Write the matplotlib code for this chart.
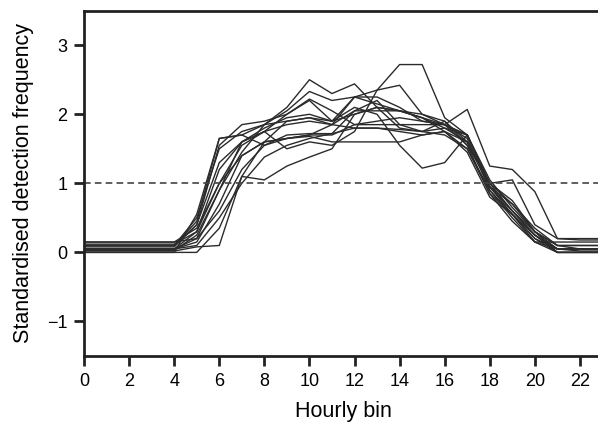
import numpy as np
import matplotlib
matplotlib.use("Agg")
from matplotlib import pyplot as plt

plt.rcParams['font.family'] = ['Liberation Sans', 'DejaVu Sans']

hours = np.arange(24)

# standardised detection frequency per hourly bin, one list per site
s01 = [0.05, 0.05, 0.05, 0.05, 0.05, 0.30, 1.20, 1.60, 1.75, 1.50, 1.60, 1.55, 1.75, 2.35, 2.72, 2.72, 1.95, 1.70, 0.95, 0.60, 0.25, 0.05, 0.05, 0.05]
s02 = [0.10, 0.10, 0.10, 0.10, 0.10, 0.50, 1.50, 1.75, 1.85, 2.10, 2.50, 2.30, 2.44, 2.10, 1.80, 1.75, 1.70, 1.50, 0.90, 0.55, 0.20, 0.05, 0.05, 0.05]
s03 = [0.05, 0.05, 0.05, 0.05, 0.05, 0.20, 0.90, 1.60, 1.80, 1.95, 2.00, 1.90, 2.10, 2.00, 1.55, 1.22, 1.30, 1.70, 1.00, 0.70, 0.30, 0.10, 0.10, 0.10]
s04 = [0.15, 0.15, 0.15, 0.15, 0.15, 0.35, 1.00, 1.40, 1.60, 1.65, 1.70, 1.70, 1.85, 1.85, 1.85, 1.85, 1.85, 2.07, 1.25, 1.20, 0.88, 0.20, 0.18, 0.18]
s05 = [0.02, 0.02, 0.02, 0.02, 0.02, 0.08, 0.10, 1.10, 1.05, 1.25, 1.38, 1.50, 2.00, 2.10, 2.05, 1.95, 1.80, 1.60, 1.00, 0.60, 0.30, 0.05, 0.05, 0.05]
s06 = [0.05, 0.05, 0.05, 0.05, 0.05, 0.15, 0.70, 1.40, 1.60, 1.65, 1.68, 1.60, 1.60, 1.60, 1.60, 1.70, 1.75, 1.60, 0.95, 0.55, 0.20, 0.00, 0.00, 0.00]
s07 = [0.10, 0.10, 0.10, 0.10, 0.10, 0.40, 1.30, 1.60, 1.75, 2.00, 2.20, 1.90, 2.25, 2.35, 2.42, 2.00, 1.85, 1.70, 0.95, 0.70, 0.35, 0.10, 0.05, 0.05]
s08 = [0.00, 0.00, 0.00, 0.00, 0.00, 0.55, 1.65, 1.70, 1.85, 2.05, 2.33, 2.20, 2.25, 2.15, 2.05, 1.95, 1.85, 1.65, 0.90, 0.50, 0.15, 0.00, 0.00, 0.00]
s09 = [0.08, 0.08, 0.08, 0.08, 0.08, 0.40, 1.55, 1.85, 1.90, 2.00, 2.22, 2.05, 1.85, 1.90, 1.95, 1.90, 1.85, 1.55, 0.85, 0.45, 0.15, 0.05, 0.05, 0.05]
s10 = [0.12, 0.12, 0.12, 0.12, 0.12, 0.30, 1.00, 1.55, 1.75, 1.85, 1.90, 1.85, 1.80, 1.80, 1.78, 1.75, 1.80, 1.70, 1.05, 0.65, 0.30, 0.10, 0.10, 0.10]
s11 = [0.03, 0.03, 0.03, 0.03, 0.03, 0.25, 0.90, 1.45, 1.85, 1.90, 1.95, 1.85, 2.05, 2.05, 2.05, 2.00, 1.90, 1.60, 0.95, 0.60, 0.25, 0.05, 0.02, 0.02]
s12 = [0.05, 0.05, 0.05, 0.05, 0.05, 0.10, 0.50, 1.00, 1.38, 1.55, 1.65, 1.72, 2.05, 2.20, 1.85, 1.75, 1.90, 1.55, 1.00, 0.75, 0.30, 0.00, 0.00, 0.00]
s13 = [0.15, 0.15, 0.15, 0.15, 0.15, 0.20, 0.60, 1.20, 1.55, 1.70, 1.72, 1.72, 1.80, 1.80, 1.75, 1.70, 1.75, 1.50, 0.85, 0.55, 0.15, 0.15, 0.15, 0.15]
s14 = [0.00, 0.00, 0.00, 0.00, 0.00, 0.00, 0.35, 1.10, 1.60, 1.90, 1.95, 1.90, 2.00, 2.10, 2.05, 1.95, 1.75, 1.45, 0.80, 0.55, 0.25, 0.00, 0.00, 0.00]
s15 = [0.10, 0.10, 0.10, 0.10, 0.10, 0.45, 1.65, 1.70, 1.55, 1.65, 1.70, 1.85, 2.25, 2.25, 2.10, 1.90, 1.85, 1.70, 1.00, 1.05, 0.40, 0.20, 0.20, 0.20]

series = [s01, s02, s03, s04, s05, s06, s07, s08, s09, s10, s11, s12, s13, s14, s15]

fig = plt.figure(figsize=(5.98, 4.24), dpi=100)
# axes runs a little past the right edge, as in the cropped original
ax = fig.add_axes([0.1405, 0.1604, 0.867, 0.8144])

for s in series:
    ax.plot(hours, s, color='#2b2b2b', lw=1.0)

ax.axhline(1, color='#444444', lw=1.2, ls=(0, (4, 2.5)))

ax.set_xlim(0, 23)
ax.set_ylim(-1.5, 3.5)
ax.set_xticks(np.arange(0, 24, 2))
ax.set_yticks([-1, 0, 1, 2, 3])
ax.set_yticklabels(['\u22121', '0', '1', '2', '3'])

for side in ['left', 'bottom', 'top']:
    ax.spines[side].set_linewidth(2.0)
    ax.spines[side].set_color('#222222')
ax.spines['right'].set_visible(False)

ax.tick_params(direction='out', length=7, width=2.0, color='#222222',
               labelsize=13, pad=5)
ax.set_xlabel('Hourly bin', fontsize=15.5, labelpad=8)
ax.set_ylabel('Standardised detection frequency', fontsize=15.5, labelpad=9)

fig.savefig('out.png', dpi=100)
